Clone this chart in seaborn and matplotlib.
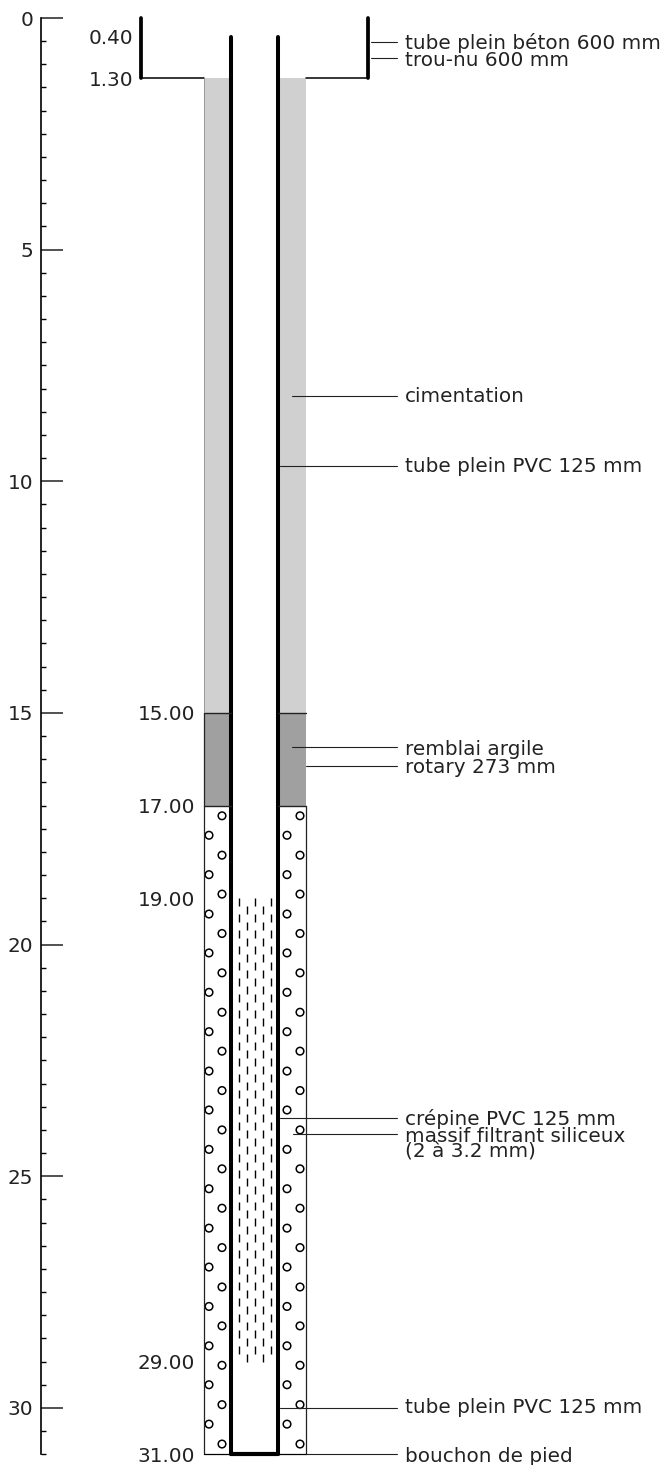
import pandas as pd
import seaborn as sns
import matplotlib.pyplot as plt

# profondeurs (m)
depth_ticks = [0, 5, 10, 15, 20, 25, 30]
minor_ticks = [0.5, 1, 1.5, 2, 2.5, 3, 3.5, 4, 4.5, 5.5, 6, 6.5, 7, 7.5, 8, 8.5, 9, 9.5,
               10.5, 11, 11.5, 12, 12.5, 13, 13.5, 14, 14.5, 15.5, 16, 16.5, 17, 17.5, 18, 18.5, 19, 19.5,
               20.5, 21, 21.5, 22, 22.5, 23, 23.5, 24, 24.5, 25.5, 26, 26.5, 27, 27.5, 28, 28.5, 29, 29.5,
               30.5, 31]
mid_ticks = [2.5, 7.5, 12.5, 17.5, 22.5, 27.5]

# cotes ecrites a gauche
cote_values = [0.40, 1.30, 15.00, 17.00, 19.00, 29.00, 31.00]
cote_right = [133, 133, 195, 195, 195, 195, 195]

# demi-largeurs depuis l'axe du forage (px du schema)
tube_beton_r = 113.5
trou_r = 51
pvc_r = 23.5
axe_x = 254.5

# couches
cimentation = [1.30, 15.00]
argile = [15.00, 17.00]
massif = [17.00, 31.00]
crepine = [19.00, 29.00]

# gravier
gravier_a = [17.22, 18.07, 18.91, 19.76, 20.61, 21.46, 22.30, 23.15, 24.00, 24.84, 25.69,
             26.54, 27.39, 28.23, 29.08, 29.93, 30.78]
gravier_b = [17.64, 18.49, 19.34, 20.18, 21.03, 21.88, 22.73, 23.57, 24.42, 25.27, 26.12,
             26.96, 27.81, 28.66, 29.50, 30.35]

# annotations
labels = ["tube plein béton 600 mm", "trou-nu 600 mm", "cimentation", "tube plein PVC 125 mm",
          "remblai argile", "rotary 273 mm", "crépine PVC 125 mm", "massif filtrant siliceux\n(2 à 3.2 mm)",
          "tube plein PVC 125 mm", "bouchon de pied"]
label_depth = [0.525, 0.87, 8.16, 9.67, 15.73, 16.14, 23.74, 24.08, 30.00, 31.00]
label_start = [371, 371, 292, 280, 292, 306, 280, 292.5, 280, 306]
label_text_y = [0.55, 0.91, 8.17, 9.68, 15.78, 16.17, 23.77, 24.30, 30.00, 31.04]

sns.set_style("white")
fig = plt.figure(figsize=(6.64, 14.65), dpi=100)
ax = fig.add_axes([0, 0, 1, 1])
ax.set_xlim(0, 664)
ax.set_ylim(1465 / 46.33 - 18 / 46.33, -18 / 46.33)
ax.axis("off")

# echelle
axd = fig.add_axes([41 / 664, 0, 0.001, 1], sharey=ax)
axd.patch.set_visible(False)
for s in ["top", "right", "bottom"]:
    axd.spines[s].set_visible(False)
axd.spines["left"].set_bounds(0, 31)
axd.spines["left"].set_linewidth(1.2)
axd.spines["left"].set_color("black")
axd.set_xticks([])
axd.set_yticks(depth_ticks)
axd.set_yticks(minor_ticks, minor=True)
axd.tick_params(axis="y", which="major", direction="in", length=16, width=1.1, labelsize=14.4, pad=5.5,
                left=True, labelleft=True, color="#222222", labelcolor="#222222")
axd.tick_params(axis="y", which="minor", direction="in", length=3.6, width=1, left=True, color="black")
for t in axd.yaxis.get_minor_ticks():
    if t.get_loc() in mid_ticks:
        t.tick1line.set_markersize(8)

gris_clair = "#d0d0d0"
gris = "#a0a0a0"

for side in [-1, 1]:
    ax.fill_betweenx(cimentation, axe_x + side * pvc_r, axe_x + side * trou_r, color=gris_clair, lw=0)
    ax.fill_betweenx(argile, axe_x + side * pvc_r, axe_x + side * trou_r, color=gris, lw=0)
    # tube beton
    ax.plot([axe_x + side * tube_beton_r] * 2, [0, 1.30], color="black", lw=2.7, solid_capstyle="round")
    ax.plot([axe_x + side * tube_beton_r, axe_x + side * trou_r], [1.30, 1.30], color="black", lw=1.1)
    # tube PVC
    ax.plot([axe_x + side * pvc_r] * 2, [0.40, 31.00], color="black", lw=2.9, solid_capstyle="round")
    # traits de couches
    ax.plot([axe_x + side * pvc_r, axe_x + side * trou_r], [15, 15], color="#222222", lw=1)
    ax.plot([axe_x + side * pvc_r, axe_x + side * trou_r], [17, 17], color="#222222", lw=1)
    ax.plot([axe_x + side * trou_r] * 2, massif, color="#222222", lw=0.9)

# bord gauche du trou
ax.plot([axe_x - trou_r] * 2, cimentation, color="#999999", lw=0.7)
ax.plot([axe_x - trou_r] * 2, argile, color="#222222", lw=0.9)

ax.plot([axe_x - pvc_r, axe_x + pvc_r], [31, 31], color="black", lw=3, solid_capstyle="round")
ax.plot([axe_x - trou_r, axe_x + trou_r], [31, 31], color="black", lw=0.9)

# crepine
for i, dx in enumerate([-16, -8, 0, 8, 16]):
    phase = 0 if i % 2 == 0 else 5.76
    ax.plot([axe_x + dx] * 2, crepine, color="black", lw=1, linestyle=(phase, (5.76, 5.76)))

# gravier
rows = []
for d in gravier_a:
    rows += [(222, d), (300, d)]
for d in gravier_b:
    rows += [(209, d), (287, d)]
df = pd.DataFrame(rows, columns=["x", "depth"])
sns.scatterplot(data=df, x="x", y="depth", ax=ax, marker="o", s=30, facecolor="none", edgecolor="black",
                linewidth=1.1, legend=False)
ax.set_xlabel("")
ax.set_ylabel("")

# cotes
for v, xr in zip(cote_values, cote_right):
    ax.text(xr, v + 0.04, f"{v:.2f}", ha="right", va="center", fontsize=14.4, color="#222222")

# legendes
for lab, d, x0, yt in zip(labels, label_depth, label_start, label_text_y):
    ax.plot([x0, 397], [d, d], color="#222222", lw=0.8)
    ax.text(405, yt, lab, ha="left", va="center", fontsize=14.4, color="#222222", linespacing=0.74)

fig.savefig("out.png", dpi=100)
